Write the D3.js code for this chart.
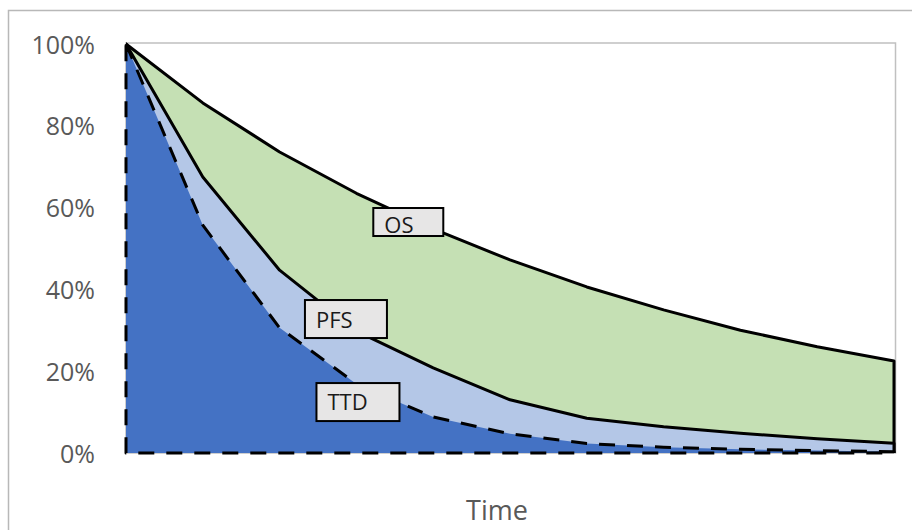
<!DOCTYPE html>
<html>
<head>
<meta charset="utf-8">
<script src="https://cdn.jsdelivr.net/npm/d3@7"></script>
<style>
  html, body { margin: 0; padding: 0; background: #fff; }
  svg { display: block; font-family: 'Open Sans', sans-serif; }
</style>
</head>
<body>
<div id="chart"></div>
<script>
// time points (no labels on the axis)
const timePoints = [0, 1, 2, 3, 4, 5, 6, 7, 8, 9, 10]
// survival in %
const osValues = [100, 85.6, 73.6, 63.5, 54.8, 47.2, 40.6, 35, 30, 26, 22.5]
const pfsValues = [100, 67.5, 44.7, 29.8, 20.8, 13, 8.5, 6.4, 4.8, 3.5, 2.4]
const ttdValues = [100, 55.7, 30.6, 16.9, 8.8, 4.7, 2.3, 1.4, 0.9, 0.6, 0.3]
const yTicks = [0, 20, 40, 60, 80, 100]
const seriesNames = ['OS', 'PFS', 'TTD']
// where each label box sits, in data units (time, %)
const labelTime = [3.22, 2.33, 2.48]
const labelValue = [59.9, 37.4, 17.1]

const WIDTH = 912
const HEIGHT = 530
const margin = { top: 44, right: 18, bottom: 77, left: 126 }

const svg = d3.select('#chart')
  .append('svg')
  .attr('width', WIDTH)
  .attr('height', HEIGHT)

// outer chart border (runs off the right and bottom edges)
svg.append('rect')
  .attr('x', 8.5)
  .attr('y', 10.5)
  .attr('width', WIDTH + 20)
  .attr('height', HEIGHT + 20)
  .attr('fill', 'none')
  .attr('stroke', '#b8b8b8')
  .attr('stroke-width', 1.5)

const x = d3.scaleLinear()
  .domain(d3.extent(timePoints))
  .range([margin.left, WIDTH - margin.right])
const y = d3.scaleLinear()
  .domain([0, 100])
  .range([HEIGHT - margin.bottom, margin.top])

// plot area frame
svg.append('rect')
  .attr('x', x(0))
  .attr('y', y(100) - 1)
  .attr('width', x(10) - x(0) + 1.5)
  .attr('height', y(0) - y(100) + 1)
  .attr('fill', 'none')
  .attr('stroke', '#c0c0c0')
  .attr('stroke-width', 1.5)

svg.append('clipPath')
  .attr('id', 'plot-clip')
  .append('rect')
  .attr('x', x(0))
  .attr('y', 0)
  .attr('width', x(10) - x(0) + 4)
  .attr('height', y(0))

const series = [
  { name: 'OS', values: osValues, fill: '#c5e0b4', dash: null },
  { name: 'PFS', values: pfsValues, fill: '#b4c7e7', dash: null },
  { name: 'TTD', values: ttdValues, fill: '#4472c4', dash: '16,12' }
]

const area = d3.area()
  .x((d, i) => x(timePoints[i]))
  .y0(y(0))
  .y1(d => y(d))

series.forEach((s, i) => {
  svg.append('path')
    .attr('d', area(s.values))
    .attr('fill', s.fill)
  const outline = svg.append('path')
    .attr('d', area(s.values))
    .attr('fill', 'none')
    .attr('stroke', '#000')
    .attr('stroke-width', 3)
    .attr('stroke-linejoin', 'round')
  if (s.dash) {
    outline.attr('stroke-dasharray', s.dash)
  } else {
    outline.attr('clip-path', 'url(#plot-clip)')
  }
})

// y axis, labels only
const yAxis = svg.append('g')
  .attr('transform', `translate(${x(0) - 31},0)`)
  .call(d3.axisLeft(y).tickValues(yTicks).tickFormat(d => d + '%').tickSize(0).tickPadding(0))
yAxis.select('.domain').remove()
yAxis.selectAll('text')
  .attr('fill', '#595959')
  .attr('font-size', 25)
  .attr('font-family', "'Open Sans', sans-serif")
  .attr('dy', '0.36em')

// x axis title
svg.append('text')
  .attr('x', 497)
  .attr('y', 520)
  .attr('text-anchor', 'middle')
  .attr('fill', '#595959')
  .attr('font-size', 27)
  .text('Time')

// series label boxes
const boxSize = [[70, 28, 25], [82, 38, 28], [83, 38, 27]]
seriesNames.forEach((name, i) => {
  const bx = x(labelTime[i])
  const by = y(labelValue[i])
  const [w, h, base] = boxSize[i]
  svg.append('rect')
    .attr('x', bx)
    .attr('y', by)
    .attr('width', w)
    .attr('height', h)
    .attr('fill', '#e7e6e6')
    .attr('stroke', '#000')
    .attr('stroke-width', 2)
  svg.append('text')
    .attr('x', bx + 11)
    .attr('y', by + base)
    .attr('fill', '#1a1a1a')
    .attr('font-size', 22)
    .text(name)
})
</script>
</body>
</html>
